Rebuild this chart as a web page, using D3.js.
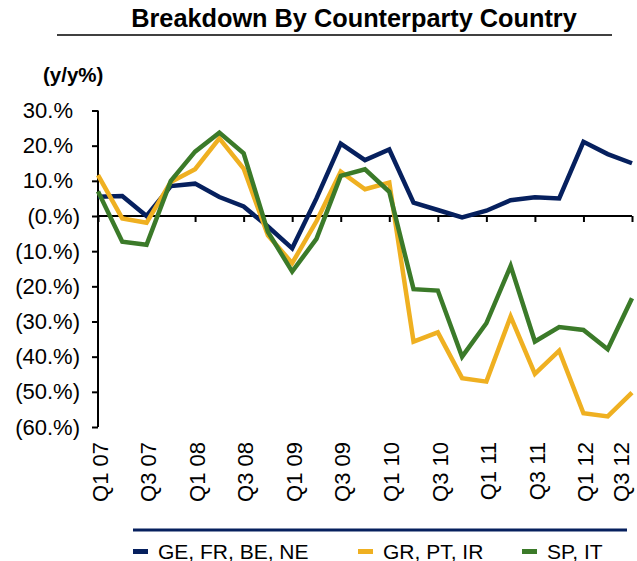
<!DOCTYPE html>
<html>
<head>
<meta charset="utf-8">
<script src="https://cdn.jsdelivr.net/npm/d3@7"></script>
<style>
  body { margin: 0; background: #fff; }
  svg { display: block; font-family: "Liberation Sans", Arial, sans-serif; }
</style>
</head>
<body>
<div id="chart"></div>
<script>
// quarters Q1 07 .. Q3 12
var quarters = ["Q1 07","Q2 07","Q3 07","Q4 07","Q1 08","Q2 08","Q3 08","Q4 08",
  "Q1 09","Q2 09","Q3 09","Q4 09","Q1 10","Q2 10","Q3 10","Q4 10",
  "Q1 11","Q2 11","Q3 11","Q4 11","Q1 12","Q2 12","Q3 12"];

// y/y % values
var coreEU = [5.5, 5.7, 0, 8.5, 9.2, 5.4, 2.7, -3, -9.2, 5, 20.6, 15.9, 18.9,
  3.8, 1.7, -0.4, 1.5, 4.5, 5.3, 5.0, 21.1, 17.6, 15.0];
var grPtIr = [11.6, -0.7, -1.9, 9.7, 13.3, 22.1, 13.5, -5.5, -13.4, -1.5, 12.6, 7.6, 9.5,
  -35.7, -33.1, -46.1, -47.1, -28.6, -44.9, -38.3, -56.1, -57.0, -50.2];
var spIt = [7, -7.3, -8.2, 10.0, 18.3, 23.7, 17.8, -4.5, -15.8, -6.5, 11.4, 13.3, 6.9,
  -20.8, -21.2, -40.0, -30.5, -14.2, -35.7, -31.6, -32.4, -37.9, -23.4];

var seriesNames = ["GE, FR, BE, NE", "GR, PT, IR", "SP, IT"];
var seriesColors = ["#06205e", "#efb021", "#3b7a29"];
var yTicks = [30, 20, 10, 0, -10, -20, -30, -40, -50, -60];

var W = 637, H = 561;
var svg = d3.select("#chart").append("svg").attr("width", W).attr("height", H);

var x = d3.scalePoint().domain(quarters).range([98, 632]);
var y = d3.scaleLinear().domain([-60, 30]).range([427, 110.5]);

// title
svg.append("text")
  .attr("x", 354).attr("y", 27)
  .attr("text-anchor", "middle")
  .style("font-weight", "bold").style("font-size", "25.3px")
  .text("Breakdown By Counterparty Country");
svg.append("line")
  .attr("x1", 57).attr("x2", 612).attr("y1", 35).attr("y2", 35)
  .attr("stroke", "#000").attr("stroke-width", 1.5);

svg.append("text")
  .attr("x", 43).attr("y", 82)
  .style("font-weight", "bold").style("font-size", "20.5px")
  .text("(y/y%)");

function fmt(v) {
  return v > 0 ? v + ".%" : "(" + Math.abs(v) + ".%)";
}

// y axis
var yAxis = d3.axisLeft(y).tickValues(yTicks).tickSize(6).tickFormat(fmt);
var gy = svg.append("g").attr("transform", "translate(98,0)").call(yAxis);
gy.select(".domain").attr("stroke", "#000").attr("stroke-width", 2).attr("d", "M0," + y(30) + "V" + y(-60));
gy.selectAll(".tick line").attr("stroke", "#000").attr("stroke-width", 2);
gy.selectAll(".tick text")
  .style("font-size", "22px").attr("fill", "#000")
  .attr("x", function(d) { return d > 0 ? -25 : -18; });

// x axis on the zero line
var xAxis = d3.axisBottom(x)
  .tickValues(quarters.filter(function(d, i) { return i % 2 == 0; }))
  .tickSize(6);
var gx = svg.append("g").attr("transform", "translate(0," + y(0) + ")").call(xAxis);
gx.select(".domain").attr("stroke", "#000").attr("stroke-width", 2).attr("d", "M98,0H632");
gx.selectAll(".tick line").attr("stroke", "#000").attr("stroke-width", 2);
gx.selectAll(".tick text").remove();

// rotated quarter labels under the plot
var xLabels = quarters.filter(function(d, i) { return i % 2 == 0; });
svg.append("g").selectAll("text")
  .data(xLabels)
  .enter().append("text")
  .attr("transform", function(d, i) {
    var px = i == xLabels.length - 1 ? x(d) - 11 : x(d) + 2;
    return "translate(" + px + ",442) rotate(-90)";
  })
  .attr("text-anchor", "end")
  .attr("dy", "0.35em")
  .style("font-size", "22px")
  .text(function(d) { return d; });

// lines
var line = d3.line()
  .x(function(d, i) { return x(quarters[i]); })
  .y(function(d) { return y(d); });

[coreEU, grPtIr, spIt].forEach(function(vals, k) {
  svg.append("path")
    .datum(vals)
    .attr("fill", "none")
    .attr("stroke", seriesColors[k])
    .attr("stroke-width", 4.5)
    .attr("stroke-linejoin", "miter")
    .attr("d", line);
});

// legend
svg.append("line")
  .attr("x1", 133).attr("x2", 627).attr("y1", 530).attr("y2", 530)
  .attr("stroke", "#06205e").attr("stroke-width", 3);

var legendX = [133, 358, 522];
var lg = svg.append("g").selectAll("g")
  .data(seriesNames)
  .enter().append("g")
  .attr("transform", function(d, i) { return "translate(" + legendX[i] + ",551)"; });
lg.append("rect")
  .attr("x", 0).attr("y", -2).attr("width", 15).attr("height", 5)
  .attr("fill", function(d, i) { return seriesColors[i]; });
lg.append("text")
  .attr("x", 25).attr("y", 7.5)
  .style("font-size", "21px")
  .text(function(d) { return d; });
</script>
</body>
</html>
